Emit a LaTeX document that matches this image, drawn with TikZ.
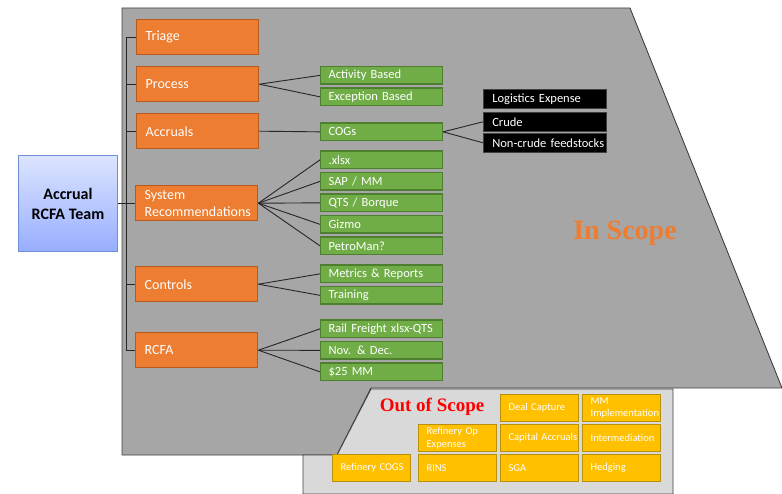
\documentclass[tikz,border=0pt]{standalone}
\usepackage{fontspec}
\setmainfont{Carlito}
\newfontfamily\scopefont{Liberation Serif}
\definecolor{ograyfill}{HTML}{A6A6A6}
\definecolor{lgrayfill}{HTML}{D9D9D9}
\definecolor{edgegray}{HTML}{404040}
\definecolor{orfill}{HTML}{ED7D31}
\definecolor{ordraw}{HTML}{B85A1E}
\definecolor{grfill}{HTML}{70AD47}
\definecolor{grdraw}{HTML}{4E7F30}
\definecolor{yefill}{HTML}{FFC000}
\definecolor{yedraw}{HTML}{B8900A}
\definecolor{bltop}{HTML}{DCE4FF}
\definecolor{blbot}{HTML}{98AEFF}
\definecolor{bldraw}{HTML}{6E8ED8}
\definecolor{inscope}{HTML}{ED7D31}
\definecolor{conn}{HTML}{262626}
\tikzset{
  base/.style={anchor=north west, rectangle, align=left, inner ysep=0pt},
  obox/.style={base, fill=orfill, draw=ordraw, line width=1.4pt, text=white,
    inner xsep=9pt, text width=104pt, minimum height=35pt,
    font=\fontsize{14}{17}\selectfont},
  gbox/.style={base, fill=grfill, draw=grdraw, line width=1.2pt, text=white,
    inner xsep=8pt, text width=106pt, minimum height=17.5pt,
    font=\fontsize{12.5}{14}\selectfont},
  kbox/.style={base, fill=black, draw=edgegray, line width=0.6pt, text=white,
    inner xsep=9pt, text width=105pt, minimum height=19pt,
    font=\fontsize{12.5}{14}\selectfont},
  ybox/.style={base, fill=yefill, draw=yedraw, line width=1.2pt, text=white,
    inner xsep=8pt, text width=62pt, minimum height=27pt,
    font=\fontsize{10.5}{12.5}\selectfont},
  link/.style={draw=conn, line width=0.9pt},
}
\begin{document}
\begin{tikzpicture}[x=1pt,y=-1pt]
\useasboundingbox (0,0) rectangle (782,494);
% in-scope region
\path[fill=ograyfill, draw=edgegray, line width=0.9pt]
  (122,8) -- (630,8) -- (782,388) -- (371,388) -- (337,455) -- (122,455) -- cycle;
% out-of-scope region
\path[fill=lgrayfill, draw=edgegray, line width=0.9pt]
  (371,389) -- (673,389) -- (673,494) -- (303,494) -- (303,455) -- (337,455) -- cycle;
\node[font=\scopefont\bfseries\fontsize{28}{30}\selectfont, text=inscope] (ins) at (625,233) {In Scope};
\node[font=\scopefont\bfseries\fontsize{19}{21}\selectfont, text=red] (outs) at (432,407) {Out of Scope};

% root
\node[anchor=north west, rectangle, draw=bldraw, line width=1pt, top color=bltop, bottom color=blbot,
  minimum width=99pt, minimum height=96pt, align=center,
  font=\bfseries\fontsize{16}{20}\selectfont] (root) at (18,155) {Accrual\\RCFA Team};

% orange
\node[obox] (triage) at (136,19) {Triage};
\node[obox] (process) at (136,66) {Process};
\node[obox] (accr) at (136,113) {Accruals};
\node[obox] (sysrec) at (135,185) {System\\Recommendations};
\node[obox] (ctrl) at (135,266) {Controls};
\node[obox] (rcfa) at (135,332) {RCFA};

% green
\node[gbox] (act) at (320,66) {Activity Based};
\node[gbox] (exc) at (320,87.5) {Exception Based};
\node[gbox] (cogs) at (320,122.5) {COGs};
\node[gbox] (xlsx) at (320,150.5) {.xlsx};
\node[gbox] (sap) at (320,172) {SAP / MM};
\node[gbox] (qts) at (320,193.5) {QTS / Borque};
\node[gbox] (gizmo) at (320,215) {Gizmo};
\node[gbox] (petro) at (320,236.5) {PetroMan?};
\node[gbox] (metr) at (320,264.5) {Metrics \& Reports};
\node[gbox] (train) at (320,286) {Training};
\node[gbox] (rail) at (320,319.5) {\mbox{Rail Freight xlsx-QTS}};
\node[gbox] (nov) at (320,341) {Nov. \& Dec.};
\node[gbox] (mm) at (320,362.5) {\$25 MM};

% black
\node[kbox] (logi) at (483,89) {Logistics Expense};
\node[kbox] (crude) at (483,112) {Crude};
\node[kbox] (noncr) at (483,133) {\mbox{Non-crude feedstocks}};

% yellow
\node[ybox] (deal) at (500,394) {Deal Capture};
\node[ybox] (mmimp) at (582,394) {MM\\\mbox{Implementation}};
\node[ybox] (refop) at (418,424) {Refinery Op\\Expenses};
\node[ybox] (capac) at (500,424) {\mbox{Capital Accruals}};
\node[ybox] (inter) at (582,424) {\mbox{Intermediation}};
\node[ybox] (refcogs) at (332,454) {\mbox{Refinery COGS}};
\node[ybox] (rins) at (418,454) {RINS};
\node[ybox] (sga) at (500,454) {SGA};
\node[ybox] (hedge) at (582,454) {Hedging};

% trunk
\coordinate (ttop) at (126,0 |- triage.west);
\coordinate (tbot) at (126,0 |- rcfa.west);
\draw[link] (ttop) -- (tbot);
\foreach \n in {triage,process,accr,sysrec,ctrl,rcfa}
  \draw[link] (126,0 |- \n.west) -- (\n.west);
\draw[link] (root.east |- sysrec.west) -- (sysrec.west);

% branches
\draw[link] (process.east) -- (act.west);
\draw[link] (process.east) -- (exc.west);
\draw[link] (accr.east) -- (cogs.west);
\foreach \n in {xlsx,sap,qts,gizmo,petro}
  \draw[link] (sysrec.east) -- (\n.west);
\draw[link] (ctrl.east) -- (metr.west);
\draw[link] (ctrl.east) -- (train.west);
\foreach \n in {rail,nov,mm}
  \draw[link] (rcfa.east) -- (\n.west);
\draw[link] (cogs.east) -- (crude.west);
\draw[link] (cogs.east) -- (noncr.west);
\end{tikzpicture}
\end{document}
